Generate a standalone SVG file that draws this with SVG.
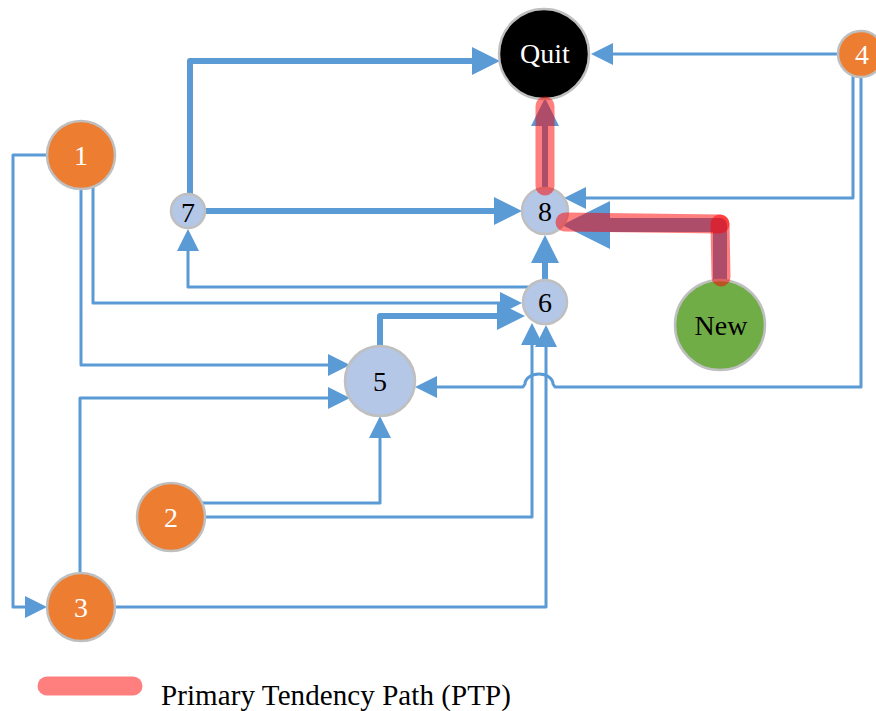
<svg xmlns="http://www.w3.org/2000/svg" width="876" height="711" viewBox="0 0 876 711">
  <style>
    .edge { fill: none; stroke: #5B9BD5; stroke-linejoin: round; }
    .thin { stroke-width: 3; marker-end: url(#arrowThin); }
    .thick { stroke-width: 6; marker-end: url(#arrowThick); }
    .big { stroke-width: 14; marker-end: url(#arrowBig); }
    .node { stroke: #BFBFBF; stroke-width: 2.5; }
    .orange { fill: #ED7D31; }
    .pale { fill: #B4C7E7; }
    .green { fill: #70AD47; }
    .dark { fill: #000000; }
    text { font-family: 'Liberation Serif', 'Times New Roman', 'DejaVu Serif', serif; }
    .label { font-size: 28px; text-anchor: middle; }
    .light { fill: #FFFFFF; }
    .ink { fill: #000000; }
    .ptp { fill: none; stroke: #FF0000; stroke-opacity: 0.5; stroke-width: 19; stroke-linecap: round; }
  </style>
  <defs>
    <marker id="arrowThin" markerUnits="userSpaceOnUse" markerWidth="22" markerHeight="22" refX="3" refY="11" orient="auto">
      <path d="M0,0 L22,11 L0,22 Z" fill="#5B9BD5"/>
    </marker>
    <marker id="arrowThick" markerUnits="userSpaceOnUse" markerWidth="28" markerHeight="28" refX="3" refY="14" orient="auto">
      <path d="M0,0 L28,14 L0,28 Z" fill="#5B9BD5"/>
    </marker>
    <marker id="arrowBig" markerUnits="userSpaceOnUse" markerWidth="48" markerHeight="48" refX="3" refY="24" orient="auto">
      <path d="M0,0 L48,24 L0,48 Z" fill="#5B9BD5"/>
    </marker>
  </defs>

  <rect width="876" height="711" fill="#FFFFFF"/>

  <!-- connectors -->
  <g id="connectors">
    <path id="e-7-quit" class="edge thick" d="M190,195 V61 H475"/>
    <path id="e-4-quit" class="edge thin" d="M838,54 H610"/>
    <path id="e-8-quit" class="edge thick" d="M545,188 V123"/>
    <path id="e-4-8" class="edge thin" d="M853,76 V198 H583"/>
    <path id="e-4-5" class="edge thin" d="M861,77 V387 H555 L553,384 A14 10 0 0 0 525,384 L523,387 H434"/>
    <path id="e-new-8" class="edge big" d="M720,280 V225 H607"/>
    <path id="e-6-8" class="edge thick" d="M545,280 V260"/>
    <path id="e-7-8" class="edge thick" d="M205,211 H497"/>
    <path id="e-6-7" class="edge thin" d="M529,287 H188 V248"/>
    <path id="e-1-6" class="edge thin" d="M93,187 V303 H503"/>
    <path id="e-5-6" class="edge thick" d="M380,346 V316 H500"/>
    <path id="e-1-5" class="edge thin" d="M81,189 V365 H331"/>
    <path id="e-1-3" class="edge thin" d="M47,155 H13 V607 H28"/>
    <path id="e-3-5" class="edge thin" d="M80,573 V398 H331"/>
    <path id="e-3-6" class="edge thin" d="M115,607 H546 V344"/>
    <path id="e-2-6" class="edge thin" d="M205,517 H532 V342"/>
    <path id="e-2-5" class="edge thin" d="M202,503 H380 V435"/>
  </g>

  <!-- nodes -->
  <g id="node-quit">
    <circle class="node dark" cx="544" cy="54" r="45"/>
    <text class="label light" x="545" y="63">Quit</text>
  </g>
  <g id="node-4">
    <circle class="node orange" cx="861" cy="54" r="23"/>
    <text class="label light" x="862" y="64">4</text>
  </g>
  <g id="node-1">
    <circle class="node orange" cx="81" cy="155" r="34"/>
    <text class="label light" x="81" y="165">1</text>
  </g>
  <g id="node-7">
    <circle class="node pale" cx="188" cy="211" r="17"/>
    <text class="label ink" x="188" y="222">7</text>
  </g>
  <g id="node-8">
    <circle class="node pale" cx="545" cy="211" r="23"/>
    <text class="label ink" x="545" y="221">8</text>
  </g>
  <g id="node-6">
    <circle class="node pale" cx="545" cy="302" r="22"/>
    <text class="label ink" x="545" y="312">6</text>
  </g>
  <g id="node-new">
    <circle class="node green" cx="720" cy="325" r="45"/>
    <text class="label ink" x="721" y="335">New</text>
  </g>
  <g id="node-5">
    <circle class="node pale" cx="380" cy="381" r="35"/>
    <text class="label ink" x="380" y="391">5</text>
  </g>
  <g id="node-2">
    <circle class="node orange" cx="171" cy="517" r="34"/>
    <text class="label light" x="171" y="527">2</text>
  </g>
  <g id="node-3">
    <circle class="node orange" cx="81" cy="607" r="34"/>
    <text class="label light" x="81" y="617">3</text>
  </g>

  <!-- primary tendency path overlay -->
  <g id="ptp">
    <line class="ptp" x1="545" y1="186" x2="545" y2="106"/>
    <line class="ptp" x1="720" y1="224" x2="565" y2="222"/>
    <line class="ptp" x1="721" y1="277" x2="720" y2="224"/>
  </g>

  <!-- legend -->
  <g id="legend">
    <line class="ptp" x1="47" y1="686" x2="133" y2="686"/>
    <text x="161" y="705" font-size="29" fill="#000000" textLength="350">Primary Tendency Path (PTP)</text>
  </g>
</svg>
